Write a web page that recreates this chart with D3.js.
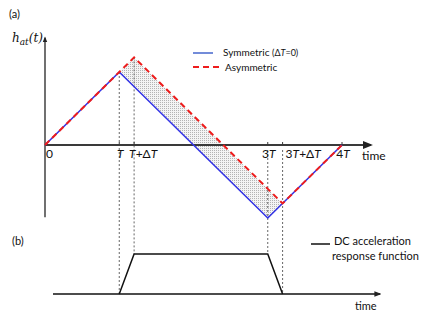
<!DOCTYPE html>
<html>
<head>
<meta charset="utf-8">
<script src="https://cdn.jsdelivr.net/npm/d3@7"></script>
<style>
  body { margin: 0; background: #fff; }
  text { font-family: Lato, "Open Sans", sans-serif; fill: #111; }
</style>
</head>
<body>
<div id="chart"></div>
<script>
// panel (a) : acceleration history, time in units of T
const symTime = [0, 1, 3, 4];
const symH = [0, 1, -1, 0];
const asymTime = [0, 1.2, 3.2, 4];
const asymH = [0, 1.2, -0.8, 0];

// tick marks on the time axis
const tickTimes = [0, 1, 1.2, 3, 3.2, 4];
const tickLabels = ["0", "T", "T+ΔT", "3T", "3T+ΔT", "4T"];

// panel (b) : DC acceleration response function
const dcTime = [1, 1.2, 3, 3.2];
const dcLevel = [0, 1, 1, 0];

const legendA = ["Symmetric (ΔT=0)", "Asymmetric"];
const legendB = ["DC acceleration", "response function"];

const W = 436, H = 321;

const svg = d3.select("#chart").append("svg")
    .attr("width", W)
    .attr("height", H);

const defs = svg.append("defs");

// light dotted hatch between the two curves (vertical dotted strokes)
const pat = defs.append("pattern")
    .attr("id", "hatch")
    .attr("patternUnits", "userSpaceOnUse")
    .attr("width", 2)
    .attr("height", 2);
pat.append("rect").attr("width", 2).attr("height", 2).attr("fill", "#f4f4f4");
pat.append("rect").attr("width", 1).attr("height", 1).attr("fill", "#b4b4b4");

const arrow = defs.append("marker")
    .attr("id", "arrow")
    .attr("viewBox", "0 0 10 10")
    .attr("refX", 8).attr("refY", 5)
    .attr("markerWidth", 5).attr("markerHeight", 5)
    .attr("orient", "auto");
arrow.append("path").attr("d", "M0,1L10,5L0,9Z").attr("fill", "#222");

const x = d3.scaleLinear().domain([0, 4]).range([45, 342]);
const yA = d3.scaleLinear().domain([0, 1]).range([145, 72]);
const yB = d3.scaleLinear().domain([0, 1]).range([294, 254]);

const line = d3.line().x(d => x(d[0])).y(d => yA(d[1]));
const sym = symTime.map((t, i) => [t, symH[i]]);
const asym = asymTime.map((t, i) => [t, asymH[i]]);

// hatched region: asymmetric curve forward, symmetric curve back
const region = [sym[1]].concat(asym.slice(1, 3), sym.slice(1, 3).reverse());
svg.append("path")
    .attr("d", line(region) + "Z")
    .attr("fill", "url(#hatch)")
    .attr("stroke", "none");

// dashed guides from the corners down into panel (b)
const guides = [
    { t: symTime[1], top: yA(symH[1]), bottom: yB(dcLevel[0]) },
    { t: asymTime[1], top: yA(asymH[1]), bottom: yB(dcLevel[1]) },
    { t: symTime[2], top: yA(0) + 5, bottom: yB(dcLevel[2]) },
    { t: asymTime[2], top: yA(0) + 5, bottom: yB(dcLevel[3]) }
];
svg.append("g").selectAll("line")
    .data(guides)
    .enter().append("line")
    .attr("x1", d => x(d.t)).attr("x2", d => x(d.t))
    .attr("y1", d => d.top).attr("y2", d => d.bottom)
    .attr("stroke", "#666")
    .attr("stroke-width", 1)
    .attr("stroke-dasharray", "2,2");

// axes of panel (a)
svg.append("line")
    .attr("x1", x(0)).attr("x2", x(0))
    .attr("y1", yA(-0.99)).attr("y2", yA(1.47))
    .attr("stroke", "#111").attr("stroke-width", 1.2)
    .attr("marker-end", "url(#arrow)");
svg.append("line")
    .attr("x1", x(0)).attr("x2", x(4.39))
    .attr("y1", yA(0)).attr("y2", yA(0))
    .attr("stroke", "#3a3a3a").attr("stroke-width", 2)
    .attr("marker-end", "url(#arrow)");

svg.append("g").selectAll("line")
    .data(tickTimes.slice(1))
    .enter().append("line")
    .attr("x1", d => x(d)).attr("x2", d => x(d))
    .attr("y1", yA(0) - 3).attr("y2", yA(0))
    .attr("stroke", "#3a3a3a");

// tick labels, T in italics
const tl = svg.append("g").selectAll("text")
    .data(tickLabels)
    .enter().append("text")
    .attr("x", (d, i) => {
        if (i === 0) return x(tickTimes[i]) + 1;
        if (d.includes("Δ")) return x(tickTimes[i]) - (d.startsWith("3") ? -3 : 5);
        return x(tickTimes[i]) + 1;
    })
    .attr("y", yA(0) + 13)
    .attr("text-anchor", (d, i) => (i === 0 || d.includes("Δ")) ? "start" : "middle")
    .style("font-size", "12px");
tl.each(function(d) {
    const el = d3.select(this);
    d.split(/(T)/).filter(s => s.length).forEach(s => {
        el.append("tspan")
            .style("font-style", s === "T" ? "italic" : "normal")
            .text(s);
    });
});

svg.append("text")
    .attr("x", 362).attr("y", yA(0) + 15)
    .style("font-size", "12px")
    .text("time");

// curves
svg.append("path")
    .attr("d", line(sym))
    .attr("fill", "none")
    .attr("stroke", "#3333e6")
    .attr("stroke-width", 1.6);
svg.append("path")
    .attr("d", line(asym))
    .attr("fill", "none")
    .attr("stroke", "#ee1c1c")
    .attr("stroke-width", 2)
    .attr("stroke-dasharray", "6,4");

// y label h_at(t)
const hl = svg.append("text")
    .attr("x", 12).attr("y", 42)
    .style("font-family", "'DejaVu Serif', serif")
    .style("font-style", "italic")
    .style("font-size", "12px");
hl.append("tspan").text("h");
hl.append("tspan").attr("dy", 3).style("font-size", "9px").text("at");
hl.append("tspan").attr("dy", -3).text("(t)");

svg.append("text").attr("x", 9).attr("y", 18).style("font-size", "11px").text("(a)");
svg.append("text").attr("x", 12).attr("y", 245).style("font-size", "11px").text("(b)");

// legend (a)
const lg = svg.append("g");
lg.append("line")
    .attr("x1", 193).attr("x2", 213).attr("y1", 53).attr("y2", 53)
    .attr("stroke", "#4466cc").attr("stroke-width", 1.5);
lg.append("line")
    .attr("x1", 193).attr("x2", 221).attr("y1", 67).attr("y2", 67)
    .attr("stroke", "#ee1c1c").attr("stroke-width", 2)
    .attr("stroke-dasharray", "6,4");
const l1 = lg.append("text").attr("x", 223).attr("y", 56).style("font-size", "10px");
l1.append("tspan").text(legendA[0].split(" ")[0] + " ");
const sub = l1.append("tspan").style("font-size", "9px");
sub.append("tspan").text("(Δ");
sub.append("tspan").style("font-style", "italic").text("T");
sub.append("tspan").text("=0)");
lg.append("text").attr("x", 225).attr("y", 71).style("font-size", "10px").text(legendA[1]);

// panel (b)
svg.append("line")
    .attr("x1", 53).attr("x2", 380)
    .attr("y1", yB(0)).attr("y2", yB(0))
    .attr("stroke", "#111").attr("stroke-width", 1.4)
    .attr("marker-end", "url(#arrow)");
svg.append("text")
    .attr("x", 355).attr("y", yB(0) + 16)
    .style("font-size", "11px")
    .text("time");

svg.append("path")
    .attr("d", d3.line().x(d => x(d[0])).y(d => yB(d[1]))(dcTime.map((t, i) => [t, dcLevel[i]])))
    .attr("fill", "none")
    .attr("stroke", "#111")
    .attr("stroke-width", 1.5);

svg.append("line")
    .attr("x1", 311).attr("x2", 330).attr("y1", 244).attr("y2", 244)
    .attr("stroke", "#111").attr("stroke-width", 1.5);
svg.append("text").attr("x", 334).attr("y", 245).style("font-size", "11px").text(legendB[0]);
svg.append("text").attr("x", 332).attr("y", 260).style("font-size", "11px").text(legendB[1]);
</script>
</body>
</html>
